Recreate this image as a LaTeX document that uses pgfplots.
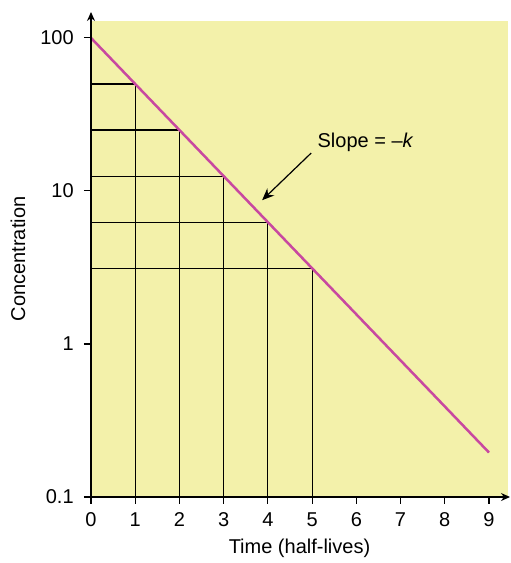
\documentclass[border=0pt]{standalone}
\usepackage{pgfplots}
\pgfplotsset{compat=1.18}
\usetikzlibrary{arrows.meta}
\usepackage{fontspec}
\setmainfont{Liberation Sans}
\definecolor{bgyellow}{RGB}{243,241,170}
\definecolor{linemag}{RGB}{200,72,160}
\begin{document}
\fontsize{20}{24}\selectfont
\begin{tikzpicture}
\begin{axis}[
  scale only axis,
  width=417pt, height=476pt,
  xmin=0, xmax=9.43,
  ymode=log, ymin=0.1, ymax=129,
  axis x line*=bottom, axis y line*=left,
  axis line style={line width=1.3pt, -},
  axis background/.style={fill=bgyellow},
  xtick={0,1,...,9},
  ytick={0.1,1,10,100},
  yticklabels={0.1,1,10,100},
  yminorticks=false,
  tick align=outside,
  xtick pos=bottom, ytick pos=left,
  major tick length=7pt,
  tick style={line width=1.1pt, black},
  /pgf/number format/assume math mode=true,
  tick label style={font=\fontsize{20}{24}\selectfont},
  yticklabel style={xshift=-3.5pt},
  xticklabel style={yshift=-2pt},
  label style={font=\fontsize{20}{24}\selectfont},
  xlabel={Time (half-lives)},
  ylabel={Concentration},
  xlabel style={at={(axis description cs:0.5,-0.107)}, anchor=center},
  ylabel style={at={(axis description cs:-0.175,0.5)}, anchor=center},
  clip=false,
]
\addplot[black, line width=1.2pt] coordinates {(0,50) (1,50) (1,0.1)};
\addplot[black, line width=1.2pt] coordinates {(0,25) (2,25) (2,0.1)};
\addplot[black, line width=1.2pt] coordinates {(0,12.5) (3,12.5) (3,0.1)};
\addplot[black, line width=1.2pt] coordinates {(0,6.25) (4,6.25) (4,0.1)};
\addplot[black, line width=1.2pt] coordinates {(0,3.125) (5,3.125) (5,0.1)};
\addplot[linemag, line width=2.5pt] coordinates {(0,100) (9,0.1953125)};
\pgfplotsinvokeforeach{0,1,2,3,4,5,6,7,8,9}{\draw[line width=1.1pt] (axis cs:#1,0.1) -- ([yshift=-7pt]axis cs:#1,0.1);}
\pgfplotsinvokeforeach{0.1,1,10,100}{\draw[line width=1.1pt] (axis cs:0,#1) -- ([xshift=-7pt]axis cs:0,#1);}
\draw[line width=1.2pt, -{Stealth[length=12pt,width=10pt]}] (axis cs:4.98,17.7) -- (axis cs:3.87,8.7);
\node[anchor=west, inner sep=0pt] at (axis cs:5.12,20.9) {Slope = –\textit{k}};
\draw[line width=1.3pt, -{Stealth[length=9pt,width=8pt]}] (rel axis cs:0,0.95) -- ([yshift=9pt]rel axis cs:0,1);
\draw[line width=1.3pt, -{Stealth[length=9pt,width=8pt]}] (rel axis cs:0.95,0) -- ([xshift=2pt]rel axis cs:1,0);
\coordinate (bbsw) at ([xshift=-91pt,yshift=-66pt]rel axis cs:0,0);
\coordinate (bbne) at ([xshift=2pt,yshift=21pt]rel axis cs:1,1);
\end{axis}
\pgfresetboundingbox
\path[use as bounding box] (bbsw) rectangle (bbne);
\end{tikzpicture}
\end{document}
